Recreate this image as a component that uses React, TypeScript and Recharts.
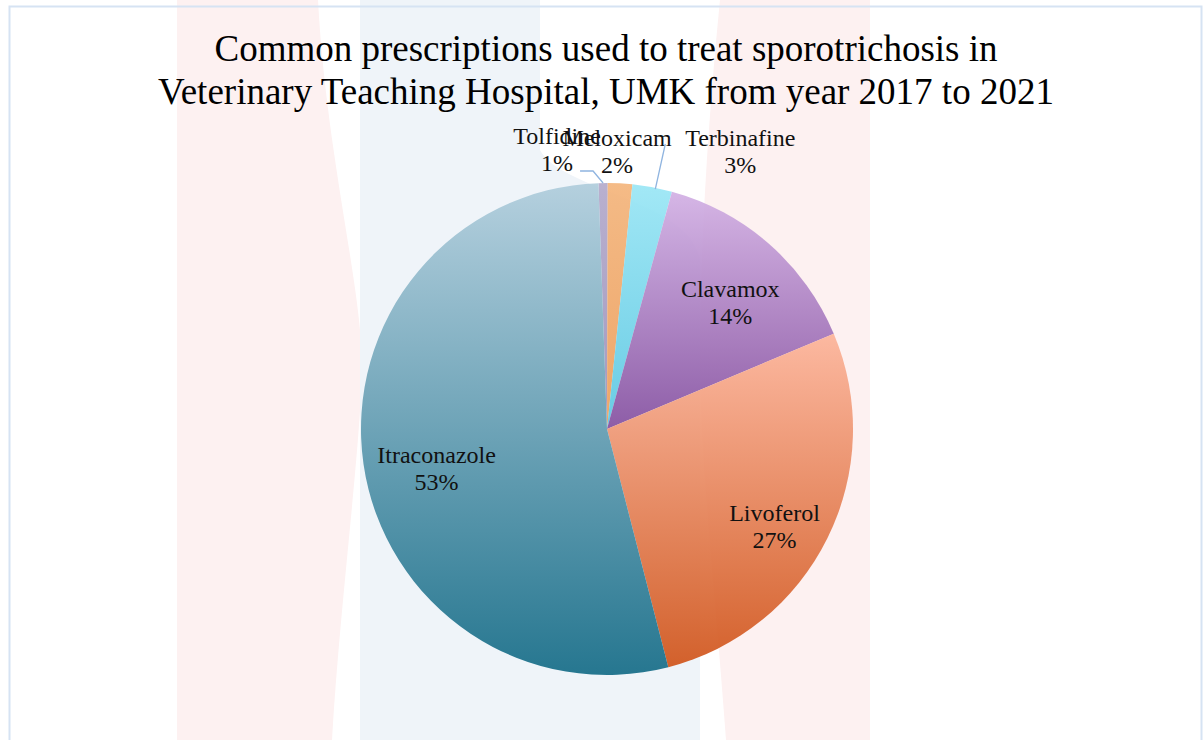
import React from "react"
import { PieChart, Pie, Cell } from "recharts"

// prescriptions, clockwise from 12 o'clock (Tolfidine sits just left of the top)
const drugs = ["Tolfidine", "Meloxicam", "Terbinafine", "Clavamox", "Livoferol", "Itraconazole"]
const shares = [0.6, 1.6, 2.6, 14.4, 27.3, 53.4]

const titleLines = [
  "Common prescriptions used to treat sporotrichosis in",
  "Veterinary Teaching Hospital, UMK from year 2017 to 2021",
]

const chartData = drugs.map((name, i) => ({ name, value: shares[i] }))

// top / bottom colour of each slice gradient
const gradients: Record<string, [string, string]> = {
  Tolfidine: ["#b4aacb", "#9d92ba"],
  Meloxicam: ["#f4b57c", "#ee9f5c"],
  Terbinafine: ["#9ae6f5", "#5dc8e2"],
  Clavamox: ["#d2b0e4", "#8550a0"],
  Livoferol: ["#fcb49a", "#d0541a"],
  Itraconazole: ["#b0cddc", "#156c87"],
}

// small slices get their label above the pie, shifted sideways
const outside: Record<string, { dx: number; lift: number; leader?: "left" | "right" }> = {
  Tolfidine: { dx: -46, lift: 2, leader: "left" },
  Meloxicam: { dx: -3, lift: 0 },
  Terbinafine: { dx: 88, lift: 0, leader: "right" },
}
// radius factor for labels drawn inside the slice
const insideRadius: Record<string, number> = { Itraconazole: 0.7 }

const RADIAN = Math.PI / 180
const FONT = "'Liberation Serif', 'Times New Roman', serif"

const renderLabel = (props: any) => {
  const { cx, cy, midAngle, outerRadius, percent, name } = props
  const pct = `${Math.round(percent * 100)}%`
  const cos = Math.cos(-midAngle * RADIAN)
  const sin = Math.sin(-midAngle * RADIAN)
  const o = outside[name]
  if (!o) {
    const r = outerRadius * (insideRadius[name] ?? 0.76)
    const x = cx + r * cos
    const y = cy + r * sin
    return (
      <text x={x} y={y} textAnchor="middle" fill="#111" fontSize={24} fontFamily={FONT}>
        <tspan x={x} y={y + 9}>{name}</tspan>
        <tspan x={x} y={y + 36}>{pct}</tspan>
      </text>
    )
  }
  const ex = cx + outerRadius * cos
  const ey = cy + outerRadius * sin
  const x = ex + o.dx
  const y1 = cy - outerRadius - 37 - o.lift
  const y2 = cy - outerRadius - 10 - o.lift
  let leader = null
  if (o.leader === "left") {
    leader = <polyline points={`${x + 23},${y2} ${x + 36},${y2} ${ex},${ey}`} fill="none" stroke="#8fb4e0" strokeWidth={1.3} />
  } else if (o.leader === "right") {
    leader = <polyline points={`${x - 75},${y1 - 2} ${ex + 3},${ey + 2}`} fill="none" stroke="#8fb4e0" strokeWidth={1.3} />
  }
  return (
    <g>
      {leader}
      <text x={x} y={y1} textAnchor="middle" fill="#111" fontSize={24} fontFamily={FONT}>
        <tspan x={x} y={y1}>{name}</tspan>
        <tspan x={x} y={y2}>{pct}</tspan>
      </text>
    </g>
  )
}

function Watermark() {
  return (
    <svg width={1204} height={740} style={{ position: "absolute", left: 0, top: 0 }}>
      <path d="M177,0 L318,0 C326,150 360,280 362,360 C362,440 340,600 332,740 L177,740 Z" fill="#fdf1f1" />
      <path d="M720,0 L870,0 L870,740 L726,740 C716,600 700,460 700,360 C700,250 708,120 720,0 Z" fill="#fdf1f1" />
      <path d="M360,0 L540,0 L540,150 C560,190 690,200 700,260 L700,740 L360,740 Z" fill="#eff4f9" />
      <rect x={9.5} y={6.5} width={1192} height={760} fill="none" stroke="#d6e3f3" strokeWidth={2} />
      {titleLines.map((t, i) => (
        <text key={t} x={606} y={61 + i * 43} textAnchor="middle" fontSize={37} fontFamily={FONT} fill="#000">
          {t}
        </text>
      ))}
    </svg>
  )
}

export default function App() {
  return (
    <div style={{ position: "absolute", left: 0, top: 0, width: 1204, height: 740, background: "#fff", overflow: "hidden" }}>
      <Watermark />
      <div style={{ position: "absolute", left: 0, top: 0 }}>
        <PieChart width={1204} height={740} margin={{ top: 0, right: 0, bottom: 0, left: 0 }}>
          <defs>
            {drugs.map((d) => (
              <linearGradient key={d} id={`grad-${d}`} x1="0" y1="0" x2="0" y2="1">
                <stop offset="0%" stopColor={gradients[d][0]} />
                <stop offset="100%" stopColor={gradients[d][1]} />
              </linearGradient>
            ))}
          </defs>
          <Pie
            data={chartData}
            dataKey="value"
            nameKey="name"
            cx={607}
            cy={429}
            outerRadius={246}
            startAngle={92}
            endAngle={-268}
            stroke="none"
            fillOpacity={0.92}
            label={renderLabel}
            labelLine={false}
            isAnimationActive={false}
          >
            {chartData.map((d) => (
              <Cell key={d.name} fill={`url(#grad-${d.name})`} />
            ))}
          </Pie>
        </PieChart>
      </div>
    </div>
  )
}
